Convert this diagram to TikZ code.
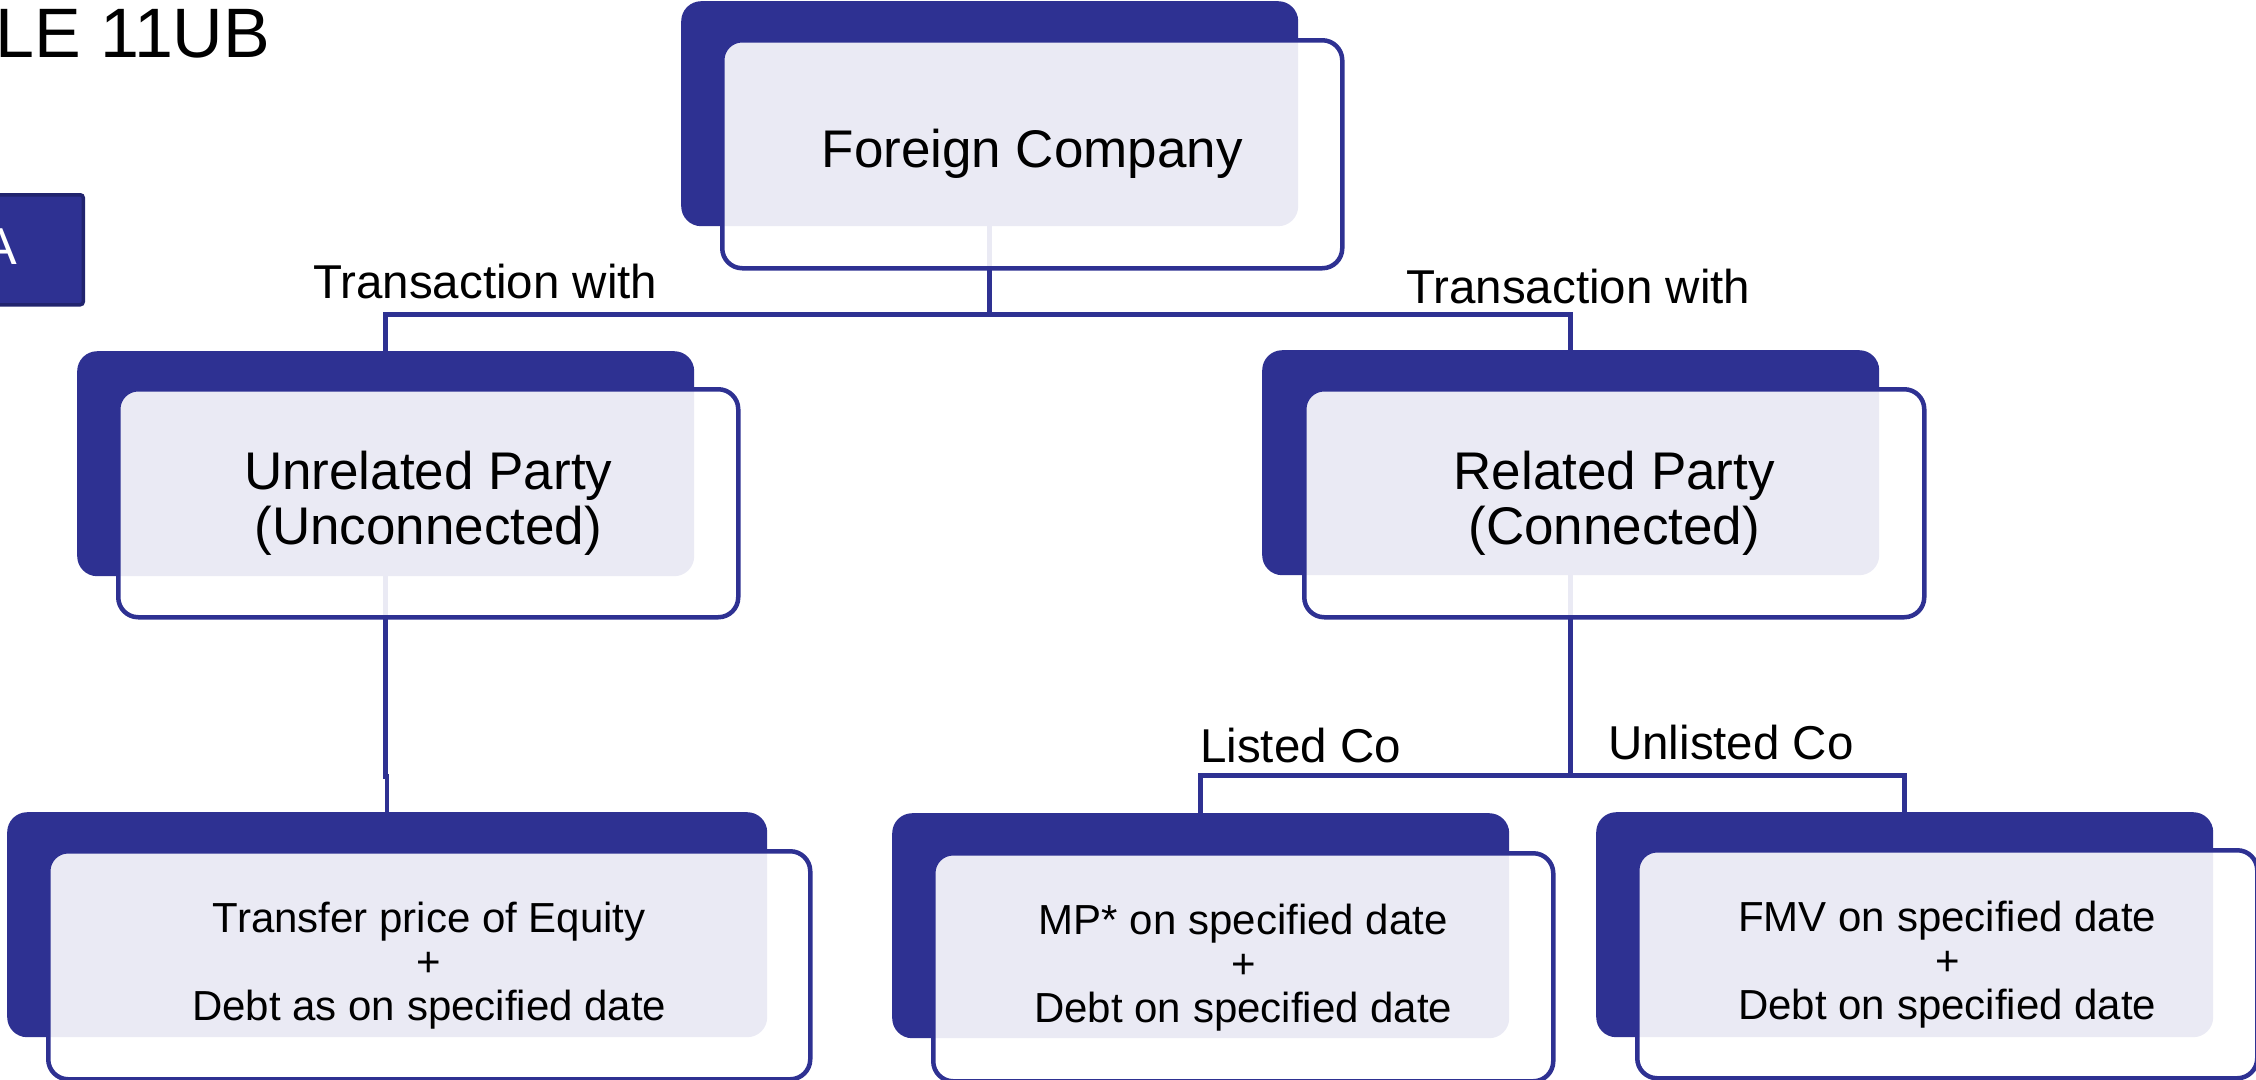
\documentclass[tikz,border=0pt]{standalone}
\usepackage{fontspec}
\setmainfont{Liberation Sans}
\usetikzlibrary{backgrounds}
\definecolor{navy}{RGB}{46,49,146}
\definecolor{navyedge}{RGB}{33,36,110}
\begin{document}
\begin{tikzpicture}[x=1pt,y=-1pt,
  backbox/.style={fill=navy, draw=none, rounded corners=20pt, inner sep=0pt,
    minimum width=617pt, minimum height=225pt, anchor=north west},
  frontbox/.style={draw=navy, line width=4.5pt, fill=white, fill opacity=0.9,
    text opacity=1, rounded corners=20pt, inner sep=0pt,
    minimum width=620pt, minimum height=228pt, anchor=north west,
    align=center, font=\fontsize{53}{55}\selectfont},
  smalltext/.style={font=\fontsize{42}{44}\selectfont},
  link/.style={draw=navy, line width=4.5pt},
  edgelabel/.style={anchor=base west, inner sep=0pt, font=\fontsize{47.5}{50}\selectfont},
]
\useasboundingbox (0,0) rectangle (2256,1079);

% heading and section marker at the left edge
\node[anchor=base west, inner sep=0pt, font=\fontsize{70}{80}\selectfont] (title) at (-5,57) {LE 11UB};
\node[fill=navy, draw=navyedge, line width=3.5pt, rounded corners=3pt, inner sep=0pt,
      minimum width=200pt, minimum height=110pt, anchor=north east] (secbox) at (85,193) {};
\node[anchor=base east, inner sep=0pt, text=white, font=\fontsize{52}{56}\selectfont] (secletter) at (17,264) {A};

% dark backing panels
\node[backbox] (fcb)  at (681,1)    {};
\node[backbox] (upb)  at (77,351)   {};
\node[backbox] (rpb)  at (1262,350) {};
\node[backbox, minimum width=760pt] (blb) at (7,812) {};
\node[backbox] (mpb)  at (892,813)  {};
\node[backbox] (fmvb) at (1596,812) {};

% translucent front cards with the text
\node[frontbox] (fc)  at (720,38)   {Foreign Company};
\node[frontbox] (up)  at (116,387)  {Unrelated Party\\(Unconnected)};
\node[frontbox] (rp)  at (1302,387) {Related Party\\(Connected)};
\node[frontbox, smalltext, minimum width=762pt] (bl) at (46,849)
  {Transfer price of Equity\\+\\Debt as on specified date};
\node[frontbox, smalltext] (mp)  at (931,851)
  {MP* on specified date\\+\\Debt on specified date};
\node[frontbox, smalltext] (fmv) at (1635,848)
  {FMV on specified date\\+\\Debt on specified date};

% elbow connectors, kept behind the cards
\begin{scope}[on background layer]
  \draw[link] (fcb.south) -- ++(0,88) -| (upb.north);
  \draw[link] (fcb.south) -- ++(0,88) -| (rpb.north);
  \draw[link] (upb.south) -- ++(0,200) -| (blb.north);
  \draw[link] (rpb.south) -- ++(0,200) -| (mpb.north);
  \draw[link] (rpb.south) -- ++(0,200) -| (fmvb.north);
\end{scope}

% connector labels
\node[edgelabel] (lblleft)     at (313,298)  {Transaction with};
\node[edgelabel] (lblright)    at (1406,303) {Transaction with};
\node[edgelabel] (lbllisted)   at (1200,762) {Listed Co};
\node[edgelabel] (lblunlisted) at (1608,759) {Unlisted Co};
\end{tikzpicture}
\end{document}
